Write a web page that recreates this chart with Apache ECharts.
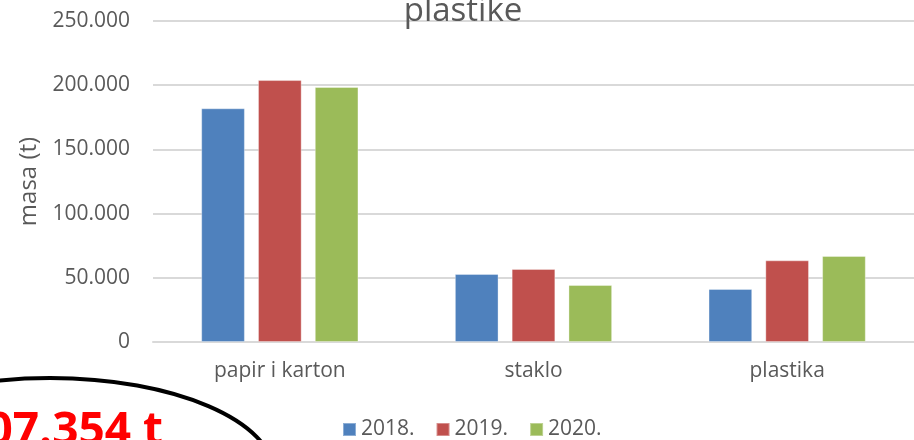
<!DOCTYPE html>
<html>
<head>
<meta charset="utf-8">
<script src="https://cdn.jsdelivr.net/npm/echarts@6/dist/echarts.min.js"></script>
<style>
html,body{margin:0;padding:0;background:#fff;}
#c{width:914px;height:440px;}
</style>
</head>
<body>
<div id="c"></div>
<script>
const categories = ['papir i karton', 'staklo', 'plastika'];
const seriesNames = ['2018.', '2019.', '2020.'];
const values2018 = [182000, 53000, 41300];
const values2019 = [204000, 56900, 63600];
const values2020 = [198600, 44400, 67000];
const titleText = 'plastike';
const axisName = 'masa (t)';
const annotationText = '07.354 t';

const font = '"Open Sans", sans-serif';
const gray = '#595959';
const colors = ['#4F81BD', '#C0504D', '#9BBB59'];
const allValues = [values2018, values2019, values2020];

function fmt(v) {
  return String(v).replace(/\B(?=(\d{3})+(?!\d))/g, '.');
}

const chart = echarts.init(document.getElementById('c'));
chart.setOption({
  animation: false,
  color: colors,
  title: {
    text: titleText,
    left: 458,
    textAlign: 'center',
    top: -10,
    textStyle: { fontFamily: font, fontSize: 33, fontWeight: 'normal', color: gray }
  },
  legend: {
    left: 342,
    top: 419,
    padding: 0,
    itemWidth: 13,
    itemHeight: 13,
    itemGap: 21,
    icon: 'rect',
    textStyle: { fontFamily: font, fontSize: 21, color: gray },
    data: seriesNames
  },
  grid: { left: 153, right: -5, top: 21, bottom: 98, containLabel: false },
  xAxis: {
    type: 'category',
    data: categories,
    axisTick: { show: false },
    axisLine: { lineStyle: { color: '#d9d9d9', width: 2 } },
    axisLabel: { fontFamily: font, fontSize: 21, color: gray, margin: 19 }
  },
  yAxis: {
    type: 'value',
    min: 0,
    max: 250000,
    interval: 50000,
    name: axisName,
    nameLocation: 'middle',
    nameRotate: 90,
    nameGap: 109,
    nameTextStyle: { fontFamily: font, fontSize: 24, color: gray },
    axisLine: { show: false },
    axisTick: { show: false },
    splitLine: { lineStyle: { color: '#d9d9d9', width: 2 } },
    axisLabel: { fontFamily: font, fontSize: 21, color: gray, margin: 23, formatter: v => fmt(v) }
  },
  series: seriesNames.map((n, i) => ({
    name: n,
    type: 'bar',
    data: allValues[i],
    barGap: '30%',
    barCategoryGap: '38%',
    itemStyle: { color: colors[i], borderColor: 'rgba(255,255,255,0.35)', borderWidth: 1 }
  })),
  graphic: [
    {
      type: 'ellipse',
      shape: { cx: 50, cy: 474, rx: 224, ry: 96 },
      style: { fill: 'none', stroke: '#000', lineWidth: 4 },
      z: 10
    },
    {
      type: 'text',
      style: {
        text: annotationText,
        x: 163,
        y: 455,
        align: 'right',
        verticalAlign: 'bottom',
        fontFamily: font,
        fontSize: 46,
        fontWeight: 'bold',
        fill: '#FF0000'
      },
      z: 11
    }
  ]
});
</script>
</body>
</html>
